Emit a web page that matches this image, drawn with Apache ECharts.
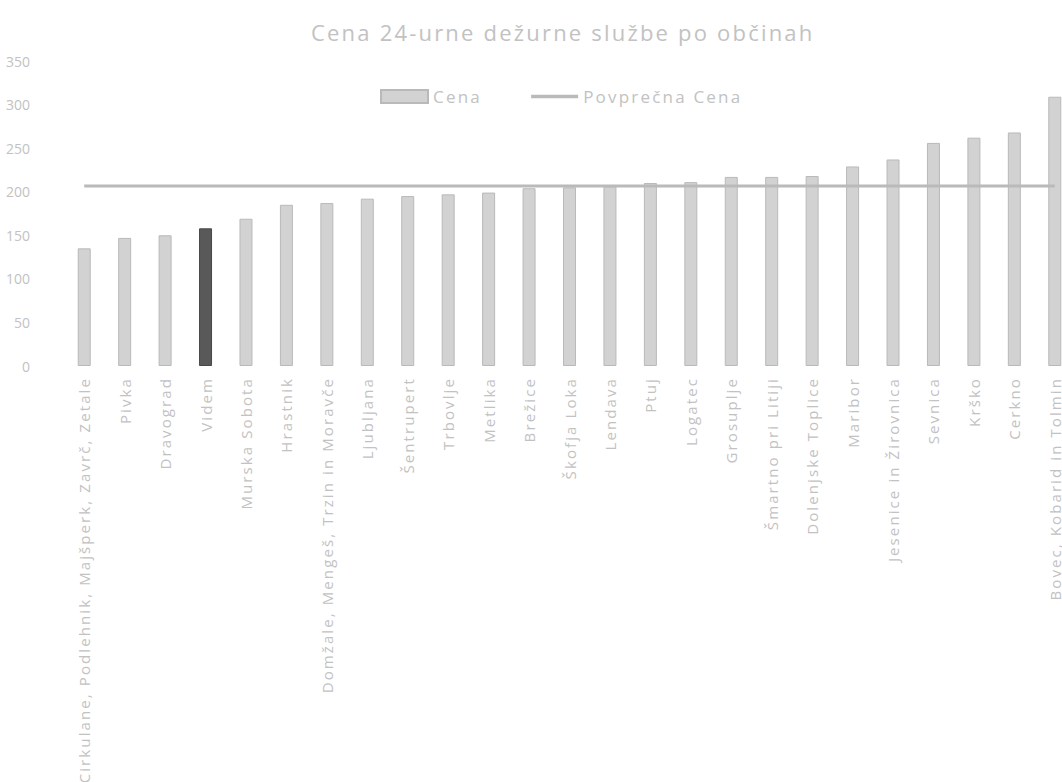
<!DOCTYPE html>
<html>
<head>
<meta charset="utf-8">
<script src="https://cdn.jsdelivr.net/npm/echarts@6/dist/echarts.min.js"></script>
<style>html,body{margin:0;padding:0;background:#fff;overflow:hidden}#c{width:1076px;height:782px}</style>
</head>
<body>
<div id="c"></div>
<script>
const categories = ["Cirkulane, Podlehnik, Majšperk, Zavrč, Zetale","Pivka","Dravograd","Videm","Murska Sobota","Hrastnik","Domžale, Mengeš, Trzin in Moravče","Ljubljana","Šentrupert","Trbovlje","Metlika","Brežice","Škofja Loka","Lendava","Ptuj","Logatec","Grosuplje","Šmartno pri Litiji","Dolenjske Toplice","Maribor","Jesenice in Žirovnica","Sevnica","Krško","Cerkno","Bovec, Kobarid in Tolmin"];
const cena = [135,147,150,158,169,185,187,192,195,197,199,204,205,206,210,211,217,217,218,229,237,256,262,268,309];
const povprecnaCena = [206.5,206.5,206.5,206.5,206.5,206.5,206.5,206.5,206.5,206.5,206.5,206.5,206.5,206.5,206.5,206.5,206.5,206.5,206.5,206.5,206.5,206.5,206.5,206.5,206.5];
const highlighted = "Videm";
const yTicks = [0,50,100,150,200,250,300,350];

const txt = '#c2c2c2';
const font = 'Open Sans';
// letter spacing per font size (px)
const spacing = {22: '2.2px', 17: '2.2px', 15: '2.1px', 14: '0px'};

const chart = echarts.init(document.getElementById('c'), null, {renderer: 'svg'});
chart.setOption({
  animation: false,
  textStyle: {fontFamily: font},
  title: {text: 'Cena 24-urne dežurne službe po občinah', left: 306, top: 16,
    textStyle: {color: txt, fontSize: 22, fontWeight: 'normal', fontFamily: font}},
  legend: {left: 375, top: 83, itemWidth: 47, itemHeight: 13, itemGap: 58,
    textStyle: {color: txt, fontSize: 17, fontFamily: font},
    data: [{name: 'Cena', icon: 'rect'},
           {name: 'Povprečna Cena', icon: 'path://M0,0H100V7H0Z', symbolKeepAspect: true}]},
  grid: {left: 64, top: 61, width: 1011, height: 305, containLabel: false},
  xAxis: {type: 'category', data: categories,
    axisLine: {show: false}, axisTick: {show: false},
    axisLabel: {rotate: 90, interval: 0, color: txt, fontSize: 15, margin: 11, fontFamily: font}},
  yAxis: {type: 'value', min: 0, max: 350, interval: 50,
    axisLine: {show: false}, axisTick: {show: false}, splitLine: {show: false},
    axisLabel: {color: txt, fontSize: 14, margin: 34, fontFamily: font,
      formatter: v => yTicks.includes(v) ? String(v) : ''}},
  series: [
    {name: 'Cena', type: 'bar', barWidth: 13,
      itemStyle: {color: '#d2d2d2', borderColor: '#b9b9b9', borderWidth: 1},
      data: cena.map((v, i) => categories[i] === highlighted
        ? {value: v, itemStyle: {color: '#595959', borderColor: '#484848'}} : v)},
    {name: 'Povprečna Cena', type: 'line', data: povprecnaCena, symbol: 'none',
      lineStyle: {color: '#bababa', width: 3}, itemStyle: {color: '#bababa'}, z: 5}
  ]
});

function applySpacing() {
  document.querySelectorAll('#c svg text').forEach(el => {
    const fs = Math.round(parseFloat(getComputedStyle(el).fontSize));
    if (spacing[fs] !== undefined) el.style.letterSpacing = spacing[fs];
  });
}
chart.on('finished', applySpacing);
applySpacing();
setTimeout(applySpacing, 50);
requestAnimationFrame(() => requestAnimationFrame(applySpacing));
</script>
</body>
</html>
